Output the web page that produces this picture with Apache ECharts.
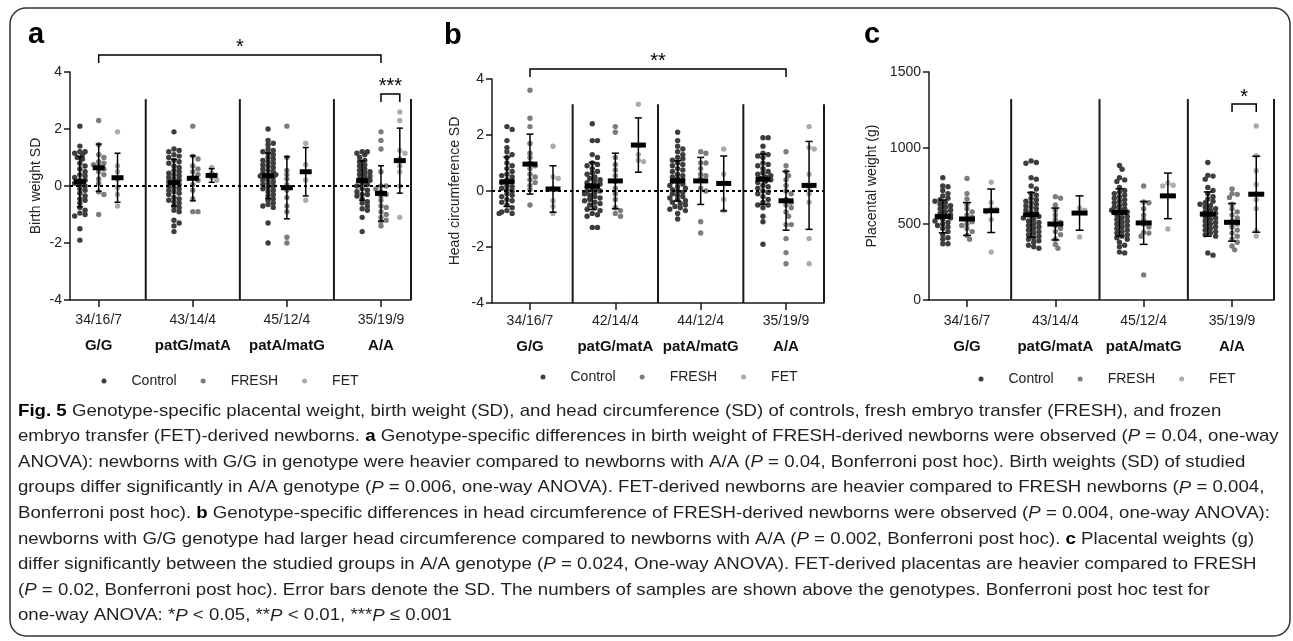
<!DOCTYPE html>
<html><head><meta charset="utf-8">
<script src="https://cdn.jsdelivr.net/npm/echarts@6/dist/echarts.min.js"></script>
<style>html,body{margin:0;padding:0;background:#fff}#c{width:1293px;height:641px}</style>
</head><body><div id="c"></div>
<script>
// ---------------- data ----------------
const genotypes = ['G/G', 'patG/matA', 'patA/matG', 'A/A'];
const seriesNames = ['Control', 'FRESH', 'FET'];
const countsBirth = ['34/16/7', '43/14/4', '45/12/4', '35/19/9'];
const countsHead = ['34/16/7', '42/14/4', '44/12/4', '35/19/9'];
const countsPlac = ['34/16/7', '43/14/4', '45/12/4', '35/19/9'];

// a: birth weight SD (per genotype)
const birthControl = [
  [2.1,1.4,1.2,1.2,1.15,1.1,1.0,0.95,0.8,0.7,0.6,0.5,0.4,0.35,0.3,0.2,0.2,0.1,0.05,0.0,-0.1,-0.15,-0.25,-0.35,-0.45,-0.5,-0.6,-0.75,-0.85,-0.95,-1.0,-1.05,-1.5,-1.9],
  [1.9,1.3,1.25,1.2,1.1,1.05,1.0,0.9,0.85,0.8,0.7,0.65,0.55,0.5,0.45,0.4,0.35,0.3,0.25,0.2,0.15,0.1,0.05,0.0,-0.05,-0.1,-0.15,-0.2,-0.25,-0.3,-0.4,-0.45,-0.5,-0.55,-0.6,-0.7,-0.75,-0.85,-0.9,-1.2,-1.3,-1.4,-1.6],
  [2.0,1.6,1.5,1.45,1.3,1.25,1.2,1.15,1.1,1.0,0.95,0.9,0.85,0.8,0.75,0.7,0.65,0.6,0.55,0.5,0.45,0.4,0.4,0.35,0.3,0.25,0.2,0.15,0.1,0.05,0.0,-0.05,-0.1,-0.15,-0.2,-0.3,-0.35,-0.45,-0.5,-0.6,-0.65,-0.7,-0.75,-1.3,-2.0],
  [1.2,1.2,1.15,1.1,1.0,0.9,0.85,0.75,0.7,0.6,0.55,0.5,0.45,0.4,0.35,0.3,0.25,0.2,0.1,0.05,0.0,-0.1,-0.15,-0.2,-0.3,-0.3,-0.35,-0.45,-0.55,-0.6,-0.7,-0.8,-0.85,-1.1,-1.6]
];
const birthFresh = [
  [2.3,1.45,1.1,1.0,0.85,0.8,0.75,0.7,0.6,0.5,0.4,0.25,0.1,-0.2,-0.3,-1.0],
  [2.1,1.05,0.95,0.7,0.6,0.5,0.4,0.3,0.2,0.05,-0.15,-0.45,-0.9,-0.9],
  [2.1,1.0,0.55,0.4,0.25,0.05,-0.15,-0.4,-0.7,-0.9,-1.8,-2.0],
  [1.9,1.6,1.3,0.5,0.0,0.0,-0.1,-0.2,-0.3,-0.35,-0.5,-0.7,-0.75,-0.9,-1.0,-1.1,-1.2,-1.25,-1.4]
];
const birthFet = [
  [1.9,0.7,0.5,0.25,-0.05,-0.3,-0.7],
  [0.65,0.45,0.3,0.2],
  [1.5,0.75,0.2,-0.5],
  [2.6,2.3,1.25,1.15,0.95,0.7,0.5,0.0,-1.1]
];
const birthMeanControl = [0.15, 0.12, 0.36, 0.19];
const birthMeanFresh   = [0.64, 0.27, -0.06, -0.26];
const birthMeanFet     = [0.29, 0.37, 0.5, 0.89];
const birthSdControl = [0.88, 0.82, 0.8, 0.69];
const birthSdFresh   = [0.83, 0.79, 1.09, 0.97];
const birthSdFet     = [0.86, 0.24, 0.85, 1.14];

// b: head circumference SD
const headControl = [
  [2.3,2.2,1.8,1.55,1.4,1.3,1.2,1.0,0.9,0.8,0.7,0.6,0.55,0.5,0.4,0.35,0.3,0.2,0.15,0.1,0.05,0.0,-0.1,-0.15,-0.2,-0.3,-0.35,-0.4,-0.5,-0.6,-0.7,-0.75,-0.8,-0.8],
  [2.4,1.8,1.8,1.3,1.2,1.0,0.95,0.9,0.8,0.7,0.65,0.6,0.5,0.45,0.4,0.35,0.3,0.25,0.2,0.15,0.1,0.05,0.0,0.0,-0.05,-0.1,-0.15,-0.2,-0.25,-0.3,-0.35,-0.4,-0.45,-0.5,-0.6,-0.65,-0.7,-0.8,-0.85,-0.9,-1.3,-1.3],
  [2.1,1.8,1.6,1.5,1.4,1.3,1.2,1.15,1.1,1.0,0.95,0.9,0.8,0.75,0.7,0.6,0.55,0.5,0.45,0.4,0.35,0.3,0.25,0.2,0.15,0.1,0.05,0.0,-0.05,-0.1,-0.15,-0.2,-0.25,-0.3,-0.35,-0.4,-0.45,-0.5,-0.55,-0.6,-0.65,-0.7,-0.8,-1.0],
  [1.9,1.9,1.6,1.35,1.3,1.25,1.2,1.0,0.95,0.9,0.8,0.7,0.65,0.6,0.55,0.5,0.45,0.4,0.35,0.3,0.2,0.15,0.1,0.0,-0.05,-0.1,-0.2,-0.3,-0.4,-0.5,-0.5,-0.6,-0.9,-1.1,-1.9]
];
const headFresh = [
  [3.6,2.6,2.3,1.7,1.35,1.2,1.0,0.9,0.8,0.6,0.5,0.4,0.3,0.2,0.05,-0.5],
  [2.3,2.1,1.2,0.95,0.75,0.55,0.35,0.1,-0.1,-0.3,-0.6,-0.7,-0.8,-0.9],
  [1.4,1.35,1.0,1.0,0.8,0.6,0.55,0.45,0.1,0.0,-1.1,-1.5],
  [1.4,0.9,0.7,0.55,0.4,0.2,0.0,-0.1,-0.3,-0.4,-0.5,-0.6,-0.75,-0.9,-1.2,-1.2,-1.7,-2.2,-2.6]
];
const headFet = [
  [1.6,0.5,0.45,0.1,-0.35,-0.55,-0.8],
  [3.1,1.3,1.1,1.05],
  [1.5,0.6,-0.3,-0.7],
  [2.3,1.55,1.5,0.6,0.1,-0.1,-0.4,-1.7,-2.6]
];
const headMeanControl = [0.33, 0.18, 0.36, 0.42];
const headMeanFresh   = [0.96, 0.36, 0.36, -0.35];
const headMeanFet     = [0.07, 1.64, 0.27, 0.2];
const headSdControl = [0.88, 0.84, 0.72, 0.9];
const headSdFresh   = [1.07, 0.99, 0.84, 1.05];
const headSdFet     = [0.83, 0.97, 0.98, 1.57];

// c: placental weight (g)
const placControl = [
  [805,750,745,720,700,685,670,660,650,640,630,620,610,600,590,580,570,560,550,545,540,530,520,510,500,490,480,470,450,430,410,400,370,370],
  [915,905,900,805,795,750,730,700,690,670,660,650,640,630,620,610,600,590,580,570,560,555,550,540,530,520,510,500,490,480,470,460,450,440,430,420,410,400,390,380,360,350,340],
  [885,860,805,790,780,740,720,710,700,690,680,670,660,650,640,630,620,610,600,595,590,580,570,560,550,540,530,520,510,500,490,480,470,460,450,440,430,420,410,400,380,360,350,315,310],
  [905,820,815,795,740,720,700,680,665,650,640,630,620,610,600,590,580,570,560,550,540,530,520,510,500,490,480,470,460,450,440,430,420,310,295]
];
const placFresh = [
  [800,700,665,630,600,580,560,545,530,515,500,490,470,450,425,400],
  [680,670,625,590,560,530,510,490,470,450,430,400,365,340],
  [750,645,640,600,560,530,500,480,445,440,420,165],
  [730,700,695,675,630,600,580,560,540,520,500,480,460,440,420,400,380,355,330]
];
const placFet = [
  [775,640,600,595,580,530,315],
  [605,590,575,415],
  [770,755,750,467],
  [1145,950,850,760,700,660,600,455,420]
];
const placMeanControl = [550, 561, 576, 565];
const placMeanFresh   = [533, 500, 507, 511];
const placMeanFet     = [587, 572, 685, 696];
const placSdControl = [108, 147, 155, 146];
const placSdFresh   = [108, 105, 141, 124];
const placSdFet     = [143, 113, 150, 250];

// significance annotations: [genotype index, series index] pairs
const annBirth = [
  {from: [0, 1], to: [3, 1], level: 4.6, label: '*'},
  {from: [3, 1], to: [3, 2], level: 3.23, label: '***'}
];
const annHead = [{from: [0, 1], to: [3, 1], level: 4.36, label: '**'}];
const annPlac = [{from: [3, 1], to: [3, 2], level: 1289, label: '*'}];

const captionLines = [
  '{b|Fig. 5} Genotype-specific placental weight, birth weight (SD), and head circumference (SD) of controls, fresh embryo transfer (FRESH), and frozen',
  'embryo transfer (FET)-derived newborns. {b|a} Genotype-specific differences in birth weight of FRESH-derived newborns were observed ({i|P} = 0.04, one-way',
  'ANOVA): newborns with G/G in genotype were heavier compared to newborns with A/A ({i|P} = 0.04, Bonferroni post hoc). Birth weights (SD) of studied',
  'groups differ significantly in A/A genotype ({i|P} = 0.006, one-way ANOVA). FET-derived newborns are heavier compared to FRESH newborns ({i|P} = 0.004,',
  'Bonferroni post hoc). {b|b} Genotype-specific differences in head circumference of FRESH-derived newborns were observed ({i|P} = 0.004, one-way ANOVA):',
  'newborns with G/G genotype had larger head circumference compared to newborns with A/A ({i|P} = 0.002, Bonferroni post hoc). {b|c} Placental weights (g)',
  'differ significantly between the studied groups in A/A genotype ({i|P} = 0.024, One-way ANOVA). FET-derived placentas are heavier compared to FRESH',
  '({i|P} = 0.02, Bonferroni post hoc). Error bars denote the SD. The numbers of samples are shown above the genotypes. Bonferroni post hoc test for',
  'one-way ANOVA: *{i|P} < 0.05, **{i|P} < 0.01, ***{i|P} \u2264 0.001'
];

// ---------------- layout / style ----------------
const FONT = '"Liberation Sans", Arial, Helvetica, sans-serif';
const INK = '#1a1a1a';
const dotColors = ['#3d3d3d', '#7c7c7c', '#ababab'];

const panels = [
  {letter: 'a', letterPos: [28, 38], grid: {left: 70, top: 72, width: 341, height: 228},
   xr: [0.695, 4.319], yr: [-4, 4, 2], off: 0.2, name: 'Birth weight SD', nameGap: 27,
   counts: countsBirth, pts: [birthControl, birthFresh, birthFet],
   means: [birthMeanControl, birthMeanFresh, birthMeanFet], sds: [birthSdControl, birthSdFresh, birthSdFet],
   zero: true, sepTop: 3.05, ann: annBirth, legend: [101.5, 374], labelMargin: 7, barW: 12, capW: 6},
  {letter: 'b', letterPos: [444, 39], grid: {left: 492, top: 79, width: 332, height: 224},
   xr: [0.555, 4.445], yr: [-4, 4, 2], off: 0.27, name: 'Head circumference SD', nameGap: 30,
   counts: countsHead, pts: [headControl, headFresh, headFet],
   means: [headMeanControl, headMeanFresh, headMeanFet], sds: [headSdControl, headSdFresh, headSdFet],
   zero: true, sepTop: 3.1, ann: annHead, legend: [540.5, 370], labelMargin: 5, barW: 15, capW: 7},
  {letter: 'c', letterPos: [864, 38], grid: {left: 929, top: 72, width: 345, height: 228},
   xr: [0.57, 4.475], yr: [0, 1500, 500], off: 0.274, name: 'Placental weight (g)', nameGap: 50,
   counts: countsPlac, pts: [placControl, placFresh, placFet],
   means: [placMeanControl, placMeanFresh, placMeanFet], sds: [placSdControl, placSdFresh, placSdFet],
   zero: false, sepTop: 1322, ann: annPlac, legend: [978.5, 372], labelMargin: 8, barW: 16, capW: 8}
];

// deterministic beeswarm: horizontal pixel offsets so that dots do not pile up
function swarm(vals, yPx, d, step, maxOff) {
  const order = vals.map((v, i) => i).sort((a, b) => vals[b] - vals[a]);
  const placed = [], off = new Array(vals.length).fill(0);
  order.forEach(i => {
    const y = vals[i] * yPx;
    let best = 0, bestScore = Infinity;
    for (let k = 0; k < 40; k++) {
      const cand = k === 0 ? 0 : (k % 2 === 1 ? 1 : -1) * Math.ceil(k / 2) * step;
      if (Math.abs(cand) > maxOff) break;
      let minD = Infinity;
      for (const p of placed) {
        const dx = cand - p.x, dy = y - p.y;
        minD = Math.min(minD, dx * dx + dy * dy);
      }
      if (minD >= d * d) { best = cand; bestScore = -1; break; }
      if (-minD < bestScore) { bestScore = -minD; best = cand; }
    }
    off[i] = best; placed.push({x: best, y});
  });
  return off;
}

const grids = [], xAxes = [], yAxes = [], series = [], legends = [], graphics = [];

panels.forEach((P, pi) => {
  grids.push(Object.assign({outerBoundsMode: 'none', containLabel: false}, P.grid));
  const xPx = P.grid.width / (P.xr[1] - P.xr[0]);
  const yPx = P.grid.height / (P.yr[1] - P.yr[0]);
  const axisLine = {show: true, onZero: false, lineStyle: {color: INK, width: 1.5}};
  xAxes.push({
    gridIndex: pi, type: 'value', min: P.xr[0], max: P.xr[1],
    axisLine,
    axisTick: {show: true, customValues: [1, 2, 3, 4], length: 7, lineStyle: {color: INK, width: 1.5}},
    axisLabel: {
      customValues: [1, 2, 3, 4], margin: P.labelMargin,
      formatter: v => '{n|' + P.counts[Math.round(v) - 1] + '}\n{g|' + genotypes[Math.round(v) - 1] + '}',
      rich: {
        n: {fontSize: 14, lineHeight: 26, color: '#222', fontFamily: FONT},
        g: {fontSize: 15, lineHeight: 26, fontWeight: 'bold', color: '#111', fontFamily: FONT}
      }
    },
    splitLine: {show: false}
  });
  yAxes.push({
    gridIndex: pi, type: 'value', min: P.yr[0], max: P.yr[1], interval: P.yr[2],
    axisLine,
    axisTick: {show: true, length: 6, lineStyle: {color: INK, width: 1.5}},
    axisLabel: {fontSize: 14, color: '#222', margin: 8, fontFamily: FONT, formatter: v => String(v)},
    splitLine: {show: false},
    name: P.name, nameLocation: 'middle', nameGap: P.nameGap, nameRotate: 90,
    nameTextStyle: {fontSize: 14, color: '#222', fontFamily: FONT}
  });

  // scatter dots
  seriesNames.forEach((nm, si) => {
    const data = [];
    P.pts[si].forEach((vals, gi) => {
      const offs = swarm(vals, yPx, 4.2, 2.6, 8);
      vals.forEach((v, k) => data.push([gi + 1 + (si - 1) * P.off + offs[k] / xPx, v]));
    });
    const s = {
      type: 'scatter', name: nm, xAxisIndex: pi, yAxisIndex: pi, data,
      symbol: 'circle', symbolSize: 5.4, itemStyle: {color: dotColors[si], opacity: 1},
      silent: true, z: 3, animation: false
    };
    if (si === 0 && P.zero) {
      s.markLine = {silent: true, symbol: 'none', label: {show: false},
        lineStyle: {color: '#000', type: [3, 3], width: 2}, data: [{yAxis: 0}], z: 4, animation: false};
    }
    series.push(s);
  });

  // dividers between genotype blocks
  series.push({
    type: 'custom', xAxisIndex: pi, yAxisIndex: pi, silent: true, z: 2,
    data: [1.5, 2.5, 3.5, P.xr[1]].map(x => [x, P.sepTop]),
    renderItem: (params, api) => {
      const a = api.coord([api.value(0), api.value(1)]);
      const b = api.coord([api.value(0), P.yr[0]]);
      return {type: 'line', shape: {x1: a[0], y1: a[1], x2: b[0], y2: b[1]},
        style: {stroke: INK, lineWidth: 2}};
    }
  });

  // mean bars and SD error bars
  const ms = [];
  for (let gi = 0; gi < 4; gi++) for (let si = 0; si < 3; si++)
    ms.push([gi + 1 + (si - 1) * P.off, P.means[si][gi], P.sds[si][gi]]);
  series.push({
    type: 'custom', xAxisIndex: pi, yAxisIndex: pi, silent: true, z: 6, data: ms,
    renderItem: (params, api) => {
      const x = api.value(0), m = api.value(1), s = api.value(2);
      const c = api.coord([x, m]), t = api.coord([x, m + s]), b = api.coord([x, m - s]);
      const st = {stroke: '#000', lineWidth: 1.5};
      return {type: 'group', children: [
        {type: 'line', shape: {x1: c[0], y1: t[1], x2: c[0], y2: b[1]}, style: st},
        {type: 'line', shape: {x1: c[0] - P.capW / 2, y1: t[1], x2: c[0] + P.capW / 2, y2: t[1]}, style: st},
        {type: 'line', shape: {x1: c[0] - P.capW / 2, y1: b[1], x2: c[0] + P.capW / 2, y2: b[1]}, style: st},
        {type: 'rect', shape: {x: c[0] - P.barW / 2, y: c[1] - 2.5, width: P.barW, height: 5}, style: {fill: '#000'}}
      ]};
    }
  });

  // significance brackets
  series.push({
    type: 'custom', xAxisIndex: pi, yAxisIndex: pi, silent: true, z: 6, clip: false,
    data: P.ann.map(a => [a.from[0] + 1 + (a.from[1] - 1) * P.off, a.to[0] + 1 + (a.to[1] - 1) * P.off, a.level]),
    renderItem: (params, api) => {
      const p1 = api.coord([api.value(0), api.value(2)]);
      const p2 = api.coord([api.value(1), api.value(2)]);
      const st = {stroke: '#000', lineWidth: 1.5, fill: 'none'};
      return {type: 'group', children: [
        {type: 'polyline', shape: {points: [[p1[0], p1[1] + 8], [p1[0], p1[1]], [p2[0], p2[1]], [p2[0], p2[1] + 8]]}, style: st},
        {type: 'text', style: {text: P.ann[params.dataIndex].label, x: (p1[0] + p2[0]) / 2, y: p1[1] - 7,
          align: 'center', verticalAlign: 'middle', fontSize: 20, fontFamily: FONT, fill: '#000'}}
      ]};
    }
  });

  legends.push({
    data: seriesNames, left: P.legend[0], top: P.legend[1], orient: 'horizontal', padding: 0,
    icon: 'circle', itemWidth: 5, itemHeight: 5, itemGap: 24, selectedMode: false,
    textStyle: {fontSize: 14, color: '#222', fontFamily: FONT, padding: [0, 0, 0, 20]}
  });

  graphics.push({type: 'text', left: P.letterPos[0], top: P.letterPos[1] - 18,
    style: {text: P.letter, fontSize: 29, fontWeight: 'bold', fontFamily: FONT, fill: '#000'}});
});

// figure frame
graphics.push({type: 'rect', shape: {x: 10, y: 8, width: 1280, height: 628, r: 16}, z: -1,
  style: {fill: 'none', stroke: '#333', lineWidth: 1.5}});
// caption
captionLines.forEach((t, i) => {
  graphics.push({type: 'text', x: 18, y: 411 + 25.6 * i, scaleX: 1.097,
    style: {text: t, x: 0, y: 0, verticalAlign: 'middle', fontSize: 17, fontFamily: FONT, fill: '#231f20',
      rich: {b: {fontWeight: 'bold', fontSize: 17, fontFamily: FONT, fill: '#000'},
             i: {fontStyle: 'italic', fontSize: 17, fontFamily: FONT, fill: '#231f20'}}}});
});

const chart = echarts.init(document.getElementById('c'), null, {renderer: 'canvas'});
chart.setOption({
  animation: false, backgroundColor: '#fff',
  grid: grids, xAxis: xAxes, yAxis: yAxes, series, legend: legends, graphic: graphics
});
</script></body></html>
